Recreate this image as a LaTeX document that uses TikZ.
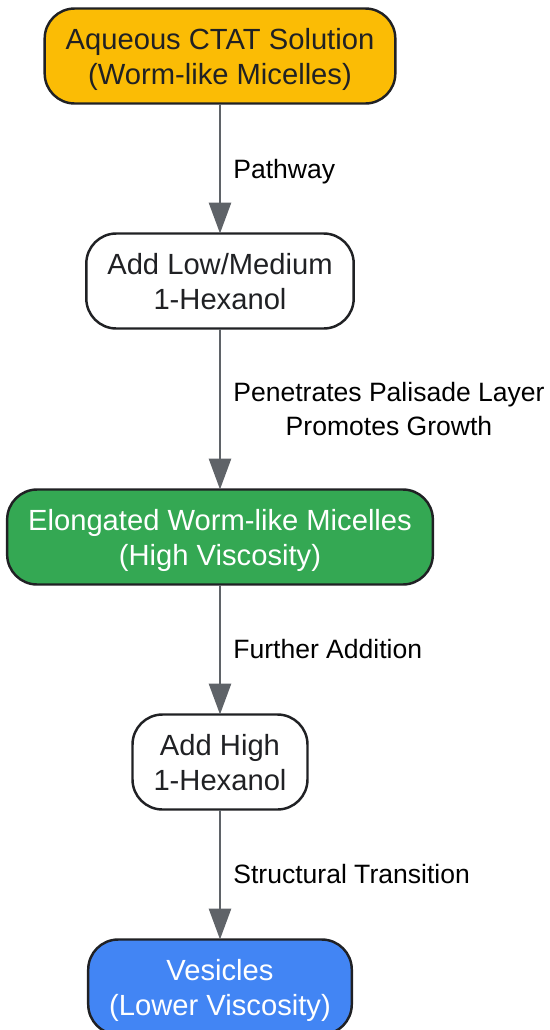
\documentclass[tikz,border=0pt]{standalone}
\usepackage{fontspec}
\setmainfont{Liberation Sans}
\usepackage{xcolor}
\usetikzlibrary{arrows.meta,positioning}
\definecolor{ctatorange}{HTML}{FBBC05}
\definecolor{wormgreen}{HTML}{34A853}
\definecolor{vesblue}{HTML}{4285F4}
\definecolor{arrowgray}{HTML}{5F6368}
\definecolor{edgedark}{HTML}{202124}
\tikzset{
	stage/.style={draw=edgedark,line width=1.4pt,outer sep=0pt,rounded corners=0.6cm,minimum height=1.9cm,inner xsep=0.42cm,text depth=0pt,align=center,font=\fontsize{16.6}{20}\selectfont,text=edgedark},
	flow/.style={draw=arrowgray,line width=1.7pt,-{Triangle[length=0.62cm,width=0.44cm]},color=arrowgray},
	steplabel/.style={right=0.12cm,align=center,text=black,font=\fontsize{15.1}{18.8}\selectfont}
}
\begin{document}
\begin{tikzpicture}[node distance=2.6cm]
	\useasboundingbox (0,0) rectangle (11,-20.6);
	\node[stage,fill=ctatorange] (sol) at (4.4,-1.12) {Aqueous CTAT Solution\\(Worm-like Micelles)};
	\node[stage,fill=white,below=of sol] (low) {Add Low/Medium\\1-Hexanol};
	\node[stage,fill=wormgreen,text=white,below=3.22cm of low] (worm) {Elongated Worm-like Micelles\\(High Viscosity)};
	\node[stage,fill=white,below=of worm] (high) {Add High\\1-Hexanol};
	\node[stage,fill=vesblue,text=white,below=of high] (ves) {Vesicles\\(Lower Viscosity)};
	\draw[flow] (sol) -- node[steplabel,text depth=0pt] {Pathway} (low);
	\draw[flow] (low) -- node[steplabel] {Penetrates Palisade Layer\\Promotes Growth} (worm);
	\draw[flow] (worm) -- node[steplabel] {Further Addition} (high);
	\draw[flow] (high) -- node[steplabel] {Structural Transition} (ves);
\end{tikzpicture}
\end{document}
